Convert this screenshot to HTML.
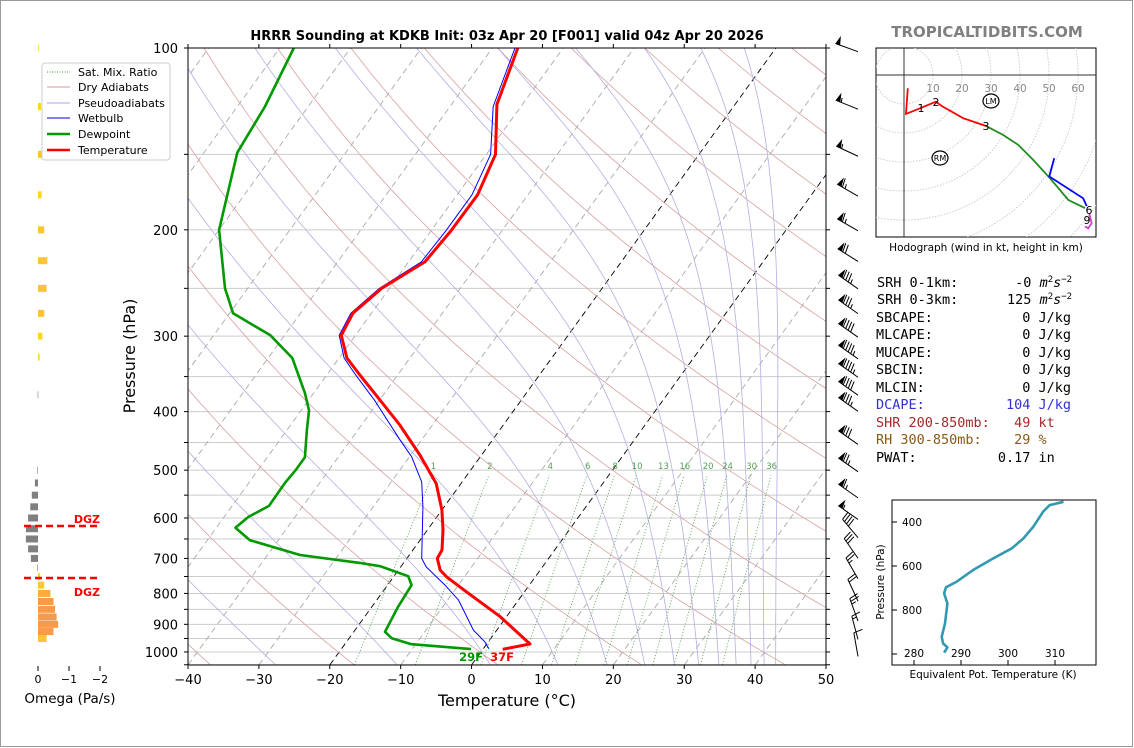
<!DOCTYPE html>
<html><head><meta charset="utf-8">
<style>
html,body{margin:0;padding:0;background:#fff;}
svg{display:block;font-family:"DejaVu Sans","Liberation Sans",sans-serif;}
.mono{font-family:"DejaVu Sans Mono","Liberation Mono",monospace;font-size:13.5px;white-space:pre;}
</style></head>
<body>
<svg id="chart" xmlns="http://www.w3.org/2000/svg" width="1134" height="748" viewBox="0 0 1134 748">
<defs>
<clipPath id="plotclip"><rect x="188" y="48" width="638" height="617"/></clipPath>
<clipPath id="hodoclip"><rect x="876" y="48" width="220" height="189"/></clipPath>
<clipPath id="thclip"><rect x="892" y="500" width="204" height="165"/></clipPath>
</defs>
<rect x="0.5" y="0.5" width="1132" height="746" fill="#fff" stroke="#999"/>
<text x="507" y="40" text-anchor="middle" font-size="13" font-weight="bold">HRRR Sounding at KDKB Init: 03z Apr 20 [F001] valid 04z Apr 20 2026</text>
<text x="987" y="37" text-anchor="middle" font-size="15" font-weight="bold" fill="#808080">TROPICALTIDBITS.COM</text>
<g id="bg" clip-path="url(#plotclip)"></g>
<g id="profiles" clip-path="url(#plotclip)"></g>
<g id="axes"></g>
<g id="barbs"></g>
<g id="omega"></g>
<g id="hodo"></g>
<g id="theta"></g>
<g>
 <rect x="42" y="63" width="128" height="97" rx="3" fill="#fff" stroke="#ccc"/>
 <line x1="47" y1="72" x2="70" y2="72" stroke="#3a9a3a" stroke-dasharray="1,1.5"/><text x="78" y="76" font-size="11">Sat. Mix. Ratio</text>
 <line x1="47" y1="87" x2="70" y2="87" stroke="#d49a9a"/><text x="78" y="91" font-size="11">Dry Adiabats</text>
 <line x1="47" y1="103" x2="70" y2="103" stroke="#a8a8e0"/><text x="78" y="107" font-size="11">Pseudoadiabats</text>
 <line x1="47" y1="118" x2="70" y2="118" stroke="#0000cc"/><text x="78" y="122" font-size="11">Wetbulb</text>
 <line x1="47" y1="134" x2="70" y2="134" stroke="#009900" stroke-width="2.5"/><text x="78" y="138" font-size="11">Dewpoint</text>
 <line x1="47" y1="150" x2="70" y2="150" stroke="#ff0000" stroke-width="2.5"/><text x="78" y="154" font-size="11">Temperature</text>
</g>
<g>
 <text class="mono" x="877" y="287">SRH 0-1km:       -0 <tspan font-style="italic">m</tspan><tspan font-size="9" dy="-5">2</tspan><tspan font-style="italic" dy="5">s</tspan><tspan font-size="9" dy="-5">−2</tspan></text>
 <text class="mono" x="877" y="304">SRH 0-3km:      125 <tspan font-style="italic">m</tspan><tspan font-size="9" dy="-5">2</tspan><tspan font-style="italic" dy="5">s</tspan><tspan font-size="9" dy="-5">−2</tspan></text>
 <text class="mono" x="876" y="322">SBCAPE:           0 J/kg</text>
 <text class="mono" x="876" y="339">MLCAPE:           0 J/kg</text>
 <text class="mono" x="876" y="357">MUCAPE:           0 J/kg</text>
 <text class="mono" x="876" y="374">SBCIN:            0 J/kg</text>
 <text class="mono" x="876" y="392">MLCIN:            0 J/kg</text>
 <text class="mono" x="876" y="409" fill="#3333cc">DCAPE:          104 J/kg</text>
 <text class="mono" x="876" y="427" fill="#a52a2a">SHR 200-850mb:   49 kt</text>
 <text class="mono" x="876" y="444" fill="#8b5a14">RH 300-850mb:    29 %</text>
 <text class="mono" x="876" y="462">PWAT:          0.17 in</text>
</g>
</svg>
<script>
// ===== Sounding data =====
const tempP   = [100,124,150,175,201,226,250,275,299,326,348,383,421,472,526,582,628,678,700,732,751,795,874,970,990];
const tempC   = [-56.4,-53.6,-48.7,-47.1,-47.2,-47.7,-51.1,-52.6,-52.0,-48.9,-45.3,-39.9,-34.6,-28.7,-23.5,-20.0,-17.8,-15.9,-15.7,-14.1,-12.5,-8.2,-0.9,6.1,2.8];
const dewP    = [100,125,149,200,250,275,299,326,373,398,429,476,500,525,573,598,623,653,691,712,721,749,775,842,926,949,971,989];
const dewC    = [-88,-86.1,-85.3,-80,-73.2,-69.5,-62,-56.6,-51.2,-48.9,-47.2,-44.7,-44.7,-44.9,-44.8,-46.6,-47.3,-44,-35.4,-26.2,-23,-18,-16.6,-16.3,-15.6,-14,-10.6,-1.7];
const wbP     = [100,125,150,175,201,226,250,275,299,326,348,383,446,475,523,575,700,723,775,820,920,962,988];
const wbC     = [-56.8,-53.9,-49.4,-47.9,-47.9,-48.2,-51.4,-52.9,-52.3,-49.3,-45.9,-40.7,-33.0,-29.7,-25.7,-23.0,-17.9,-16.4,-11.9,-8.5,-3.3,-0.5,0.8];
// ===== Winds =====
const windP   = [98,122,146,170,194,218,242,266,291,316,339,363,386,438,486,537,583,625,676,731,796,859,921,983];
const windKt  = [50,55,55,65,65,70,85,85,90,95,95,90,85,80,75,65,55,40,30,25,20,25,15,10];
const windDir = [290,292,295,300,300,302,305,305,305,305,305,305,305,305,305,305,305,320,325,330,335,340,345,350];
// ===== Omega =====
const omegaP  = [100,125,150,175,200,225,250,275,300,325,375,500,525,550,575,600,625,650,675,700,725,750,775,800,825,850,875,900,925,950];
const omegaV  = [-0.02,-0.1,-0.2,-0.12,-0.2,-0.3,-0.28,-0.2,-0.14,-0.05,0.01,0.02,0.1,0.2,0.25,0.32,0.39,0.39,0.32,0.23,0.02,-0.07,-0.2,-0.4,-0.5,-0.55,-0.6,-0.65,-0.5,-0.28];
// ===== Theta-E =====
const thetaP  = [308,323,352,421,474,520,565,618,671,697,724,770,861,922,952,970,994];
const thetaK  = [311.8,308.9,307.5,305.4,303.3,300.8,296.9,292.6,289.1,286.8,286.4,287.1,286.6,285.9,286.2,287.1,286.4];
// ===== Hodograph (kt) =====
const hodoRedU = [1.3,0.7,5.5,11,13,20.4,28.3];
const hodoRedV = [-4.6,-13.4,-11.5,-9.2,-10.7,-14.9,-17.6];
const hodoGrnU = [28.3,34.2,39.4,44.6,50.3,56.7,62.4];
const hodoGrnV = [-17.6,-20.7,-24.1,-29.3,-35.6,-43.1,-45.9];
const hodoBluU = [51.8,50.1,61.8,63];
const hodoBluV = [-28.7,-35,-42.5,-45.2];
const hodoMagU = [63.9,64.7,63.5,62.4];
const hodoMagV = [-47.7,-51.1,-52.9,-52.2];
const xTicks = [-40,-30,-20,-10,0,10,20,30,40,50];
const pTicks = [100,200,300,400,500,600,700,800,900,1000];
const mixRatios = [1,2,4,6,8,10,13,16,20,24,30,36];

const NS='http://www.w3.org/2000/svg';
function mk(tag, attrs, parent){const e=document.createElementNS(NS,tag);for(const k in attrs)e.setAttribute(k,attrs[k]);parent.appendChild(e);return e;}
const yP = p => 48 + 262.3*Math.log(p/100);
const xT = (T,p) => 188 + (T+40)*7.089 + (665 - yP(p))*0.723;
const bg=document.getElementById('bg'), prof=document.getElementById('profiles'), axes=document.getElementById('axes');

// horizontal grid
for(let p=100;p<=1050;p+=50){
  const l=mk('line',{x1:188,x2:826,y1:yP(p),y2:yP(p),stroke:'#cccccc','stroke-width':1},bg);
  
  
}
// isotherms
for(let T=-130;T<=50;T+=10){
  const blk=(T===0||T===-20);
  const l=mk('line',{x1:xT(T,1050),y1:yP(1050),x2:xT(T,100),y2:yP(100),stroke:blk?'#000':'#aaaaaa','stroke-width':0.9,'stroke-dasharray':'6,4'},bg);
  
  
}
// dry adiabats
for(let th=233;th<=553;th+=20){
  let d='';
  for(let p=1050;p>=100;p-=10){const T=th*Math.pow(p/1000,0.2857)-273.15;d+=(d?'L':'M')+xT(T,p).toFixed(1)+','+yP(p).toFixed(1);}
  const e=mk('path',{d:d,fill:'none',stroke:'#d9a0a0','stroke-width':0.8},bg);
  
  
}
// moist adiabats (equal theta-e steps)
function es(T){return 6.112*Math.exp(17.67*T/(T+243.5));}
function rsat(Tk,p){const e=es(Tk-273.15);return 0.622*e/(p-e);}
function thetaE(Tk,p){return Tk*Math.pow(1000/p,0.2857)*Math.exp(2.5e6*rsat(Tk,p)/(1004*Tk));}
function dTdp(Tk,p){const rs=rsat(Tk,p);return (287*Tk+2.5e6*rs)/(p*(1004+2.5e6*2.5e6*rs*0.622/(287*Tk*Tk)));}
for(let te=243;te<=483;te+=20){
  let lo=190,hi=353;
  if(thetaE(hi,1050)<te)continue;
  for(let k=0;k<60;k++){const m=(lo+hi)/2;if(thetaE(m,1050)<te)lo=m;else hi=m;}
  let T=(lo+hi)/2, p=1050, pts=[];
  while(p>=100){
    pts.push(xT(T-273.15,p).toFixed(1)+','+yP(p).toFixed(1));
    const k1=dTdp(T,p), k2=dTdp(T-2.5*k1,p-2.5);
    T=T-5*k2; p-=5;
  }
  const e=mk('polyline',{points:pts.join(' '),fill:'none',stroke:'#b0b0e4','stroke-width':0.8},bg);
  
  
}
// mixing ratio lines
function tdFromW(w,p){const e=w*p/(622+w);const l=Math.log(e/6.112);return 243.5*l/(17.67-l);}
for(const w of mixRatios){
  const e=mk('line',{x1:xT(tdFromW(w,1050),1050),y1:yP(1050),x2:xT(tdFromW(w,510),510),y2:yP(510),stroke:'#55a055','stroke-width':0.9,'stroke-dasharray':'1,2'},bg);
  
  
  const t=mk('text',{x:xT(tdFromW(w,505),505),y:yP(500)-1,'font-size':8.5,fill:'#55a055','text-anchor':'middle'},bg);
  t.textContent=w;
  
  
}
// profiles
function line(P,V,col,w,name){
  const pts=P.map((p,i)=>xT(V[i],p).toFixed(1)+','+yP(p).toFixed(1)).join(' ');
  const e=mk('polyline',{points:pts,fill:'none',stroke:col,'stroke-width':w,'stroke-linejoin':'round'},prof);
  
  
}
line(dewP,dewC,'#009900',2.6,'dewpoint-line');
line(wbP,wbC,'#0000ff',1,'wetbulb-line');
line(tempP,tempC,'#ff0000',3,'temperature-line');
// surface labels
const sT=tempC[tempC.length-1], sD=dewC[dewC.length-1];
const tf=mk('text',{x:502,y:661,'font-size':11.5,'font-weight':'bold',fill:'#ff0000','text-anchor':'middle'},axes);
tf.textContent=Math.round(sT*9/5+32)+'F';


const df=mk('text',{x:471,y:661,'font-size':11.5,'font-weight':'bold',fill:'#009900','text-anchor':'middle'},axes);
df.textContent=Math.round(sD*9/5+32)+'F';



// axes frame
mk('rect',{x:188,y:48,width:638,height:617,fill:'none',stroke:'#000','stroke-width':1},axes);
xTicks.forEach(T=>{
  const x=188+(T+40)*7.089;
  mk('line',{x1:x,x2:x,y1:665,y2:669,stroke:'#000'},axes);
  mk('line',{x1:x,x2:x,y1:48,y2:44,stroke:'#000'},axes);
  const t=mk('text',{x:x,y:684,'font-size':13,'text-anchor':'middle'},axes);
  t.textContent=(T<0?'\u2212'+(-T):T);
  
  
});
for(let p=100;p<=1050;p+=50){const y=yP(p);mk('line',{x1:184,x2:188,y1:y,y2:y,stroke:'#000'},axes);mk('line',{x1:826,x2:830,y1:y,y2:y,stroke:'#000'},axes);}
pTicks.forEach(p=>{
  const t=mk('text',{x:178,y:yP(p)+5,'font-size':13,'text-anchor':'end'},axes);
  t.textContent=p;
  
  
});
const xl=mk('text',{x:507,y:706,'font-size':16,'text-anchor':'middle'},axes);xl.textContent='Temperature (°C)';


const yl=mk('text',{x:135,y:356,'font-size':16,'text-anchor':'middle',transform:'rotate(-90 135 356)'},axes);yl.textContent='Pressure (hPa)';



// wind barbs
const bG=document.getElementById('barbs');
windP.forEach((p,i)=>{
  const g=mk('g',{},bG);
  
  
  const bx=858, by=yP(p)+9, L=24, r=windDir[i]*Math.PI/180;
  const dx=Math.sin(r), dy=-Math.cos(r);
  const px=-dy, py=dx;
  const tx=bx+L*dx, ty=by+L*dy;
  mk('line',{x1:bx,y1:by,x2:tx,y2:ty,stroke:'#000','stroke-width':1},g);
  let s=Math.round(windKt[i]/5)*5, pos=0;
  while(s>=50){
    const ax=tx-dx*pos, ay=ty-dy*pos, bx2=tx-dx*(pos+5), by2=ty-dy*(pos+5);
    const cx=tx-dx*(pos+2.5)+px*9, cy=ty-dy*(pos+2.5)+py*9;
    mk('polygon',{points:`${ax},${ay} ${bx2},${by2} ${cx},${cy}`,fill:'#000'},g);
    pos+=6; s-=50;
  }
  while(s>=10){
    const ax=tx-dx*pos, ay=ty-dy*pos;
    mk('line',{x1:ax,y1:ay,x2:ax+px*9+dx*2,y2:ay+py*9+dy*2,stroke:'#000','stroke-width':1},g);
    pos+=3; s-=10;
  }
  if(s>=5){
    if(pos===0)pos=3;
    const ax=tx-dx*pos, ay=ty-dy*pos;
    mk('line',{x1:ax,y1:ay,x2:ax+px*4.5+dx*1,y2:ay+py*4.5+dy*1,stroke:'#000','stroke-width':1},g);
  }
});

// omega panel
const oG=document.getElementById('omega');
const ox = v => 38 - v*31;
function ocol(v){if(v>0)return '#808080';const a=-v;if(a<0.15)return '#ffd61f';if(a<0.35)return '#fdc437';if(a<0.5)return '#fbac3d';return '#f89a48';}
omegaP.forEach((p,i)=>{
  const v=omegaV[i], x1=Math.min(ox(0),ox(v)), w=Math.abs(ox(v)-ox(0));
  const r=mk('rect',{x:x1,y:yP(p)-3.5,width:Math.max(w,0.6),height:7,fill:ocol(v)},oG);
  
  
});
[0,-1,-2].forEach(v=>{
  mk('line',{x1:ox(v),x2:ox(v),y1:666,y2:671,stroke:'#000'},oG);
  const t=mk('text',{x:ox(v),y:683,'font-size':11,'text-anchor':'middle'},oG);
  t.textContent=v===0?'0':'\u2212'+(-v);
  
  
});
const ol=mk('text',{x:70,y:703,'font-size':13.5,'text-anchor':'middle'},oG);ol.textContent='Omega (Pa/s)';


[[526,519],[578,592]].forEach(([y,ty])=>{
  const l=mk('line',{x1:24,x2:99,y1:y,y2:y,stroke:'#ff0000','stroke-width':2.5,'stroke-dasharray':'7,4'},oG);
  
  
  const t=mk('text',{x:100,y:ty+4,'font-size':11,'font-weight':'bold',fill:'#ff0000','text-anchor':'end'},oG);t.textContent='DGZ';
  
  
});

// hodograph
const hG=document.getElementById('hodo');
const HX=904, HY=75, HS=2.9;
mk('rect',{x:876,y:48,width:220,height:189,fill:'#fff',stroke:'#000'},hG);
const hc=mk('g',{'clip-path':'url(#hodoclip)'},hG);
for(let r=10;r<=100;r+=10)mk('circle',{cx:HX,cy:HY,r:r*HS,fill:'none',stroke:'#c8c8c8','stroke-width':0.9,'stroke-dasharray':'1.5,1.5'},hc);
mk('line',{x1:876,x2:1096,y1:HY,y2:HY,stroke:'#333'},hc);
mk('line',{x1:HX,x2:HX,y1:48,y2:237,stroke:'#333'},hc);
[10,20,30,40,50,60].forEach(k=>{const t=mk('text',{x:HX+k*HS,y:HY+17,'font-size':10.5,fill:'#888','text-anchor':'middle'},hc);t.textContent=k;
  
  });
function hline(U,V,col,name){
  const e=mk('polyline',{points:U.map((u,i)=>(HX+u*HS).toFixed(1)+','+(HY-V[i]*HS).toFixed(1)).join(' '),fill:'none',stroke:col,'stroke-width':1.8},hc);
  
  
}
hline(hodoRedU,hodoRedV,'#ff0000','hodo-0-3km');
hline(hodoGrnU,hodoGrnV,'#228b22','hodo-3-6km');
hline(hodoBluU,hodoBluV,'#0000ff','hodo-6-9km');
hline(hodoMagU,hodoMagV,'#cc44cc','hodo-9km-plus');
[['1',921,112],['2',936,106],['3',986,130],['6',1089,214],['9',1087,224]].forEach(([s,x,y])=>{const t=mk('text',{x:x,y:y,'font-size':11,'text-anchor':'middle'},hc);t.textContent=s;
  
  });
[['LM',991,101],['RM',940,158]].forEach(([s,x,y])=>{mk('ellipse',{cx:x,cy:y,rx:8,ry:7,fill:'#fff',stroke:'#000','stroke-width':1.2},hc);const t=mk('text',{x:x,y:y+3,'font-size':8,'text-anchor':'middle'},hc);t.textContent=s;
  
  });
const hl=mk('text',{x:986,y:251,'font-size':10.5,'text-anchor':'middle'},hG);hl.textContent='Hodograph (wind in kt, height in km)';



// theta-e panel
const tG=document.getElementById('theta');
const thx = k => 914 + (k-280)*4.7;
const thy = p => 522 + (p-400)*0.22;
mk('rect',{x:892,y:500,width:204,height:165,fill:'#fff',stroke:'#000'},tG);
const tc=mk('g',{'clip-path':'url(#thclip)'},tG);
const tl=mk('polyline',{points:thetaP.map((p,i)=>thx(thetaK[i]).toFixed(1)+','+thy(p).toFixed(1)).join(' '),fill:'none',stroke:'#3399b0','stroke-width':2.6,'stroke-linejoin':'round'},tc);


[400,600,800].forEach(p=>{mk('line',{x1:892,x2:897,y1:thy(p),y2:thy(p),stroke:'#000'},tG);const t=mk('text',{x:922,y:thy(p)+4,'font-size':10.5,'text-anchor':'end'},tG);t.textContent=p;
  
  });
mk('line',{x1:892,x2:897,y1:thy(1000),y2:thy(1000),stroke:'#000'},tG);
[280,290,300,310].forEach(k=>{mk('line',{x1:thx(k),x2:thx(k),y1:665,y2:660,stroke:'#000'},tG);const t=mk('text',{x:thx(k),y:657,'font-size':10.5,'text-anchor':'middle'},tG);t.textContent=k;
  
  });
const tx1=mk('text',{x:993,y:678,'font-size':10.5,'text-anchor':'middle'},tG);tx1.textContent='Equivalent Pot. Temperature (K)';


const ty1=mk('text',{x:884,y:582,'font-size':10.5,'text-anchor':'middle',transform:'rotate(-90 884 582)'},tG);ty1.textContent='Pressure (hPa)';


</script>
</body></html>
